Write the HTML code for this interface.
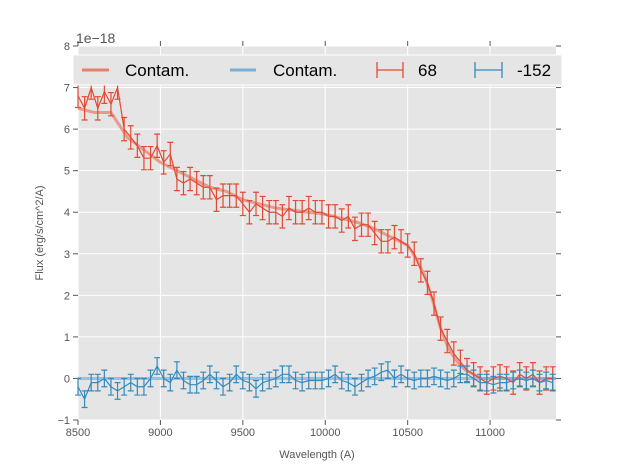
<!DOCTYPE html>
<html><head><meta charset="utf-8"><style>
body{margin:0;background:#fff;font-family:"Liberation Sans",sans-serif}
svg text{font-family:"Liberation Sans",sans-serif}
</style></head><body>
<svg id="chart" width="617" height="467" xmlns="http://www.w3.org/2000/svg">
<rect x="78" y="46" width="478" height="374" fill="#e5e5e5"/>
<g id="grid"></g><g id="ticks"></g><g id="series"></g>
<text x="76" y="43" font-size="14" fill="#555">1e−18</text>
<text x="317" y="458" font-size="11" fill="#555" text-anchor="middle">Wavelength (A)</text>
<text transform="translate(43,233) rotate(-90)" font-size="11" fill="#555" text-anchor="middle">Flux (erg/s/cm^2/A)</text>
<g>
<rect x="73" y="55" width="489" height="30" fill="#e5e5e5" stroke="#fff" stroke-width="1"/>
<line x1="82" y1="70" x2="109" y2="70" stroke="#e8806f" stroke-width="3"/>
<text x="125" y="76" font-size="17" fill="#000">Contam.</text>
<line x1="230" y1="70" x2="256" y2="70" stroke="#7bafd4" stroke-width="3"/>
<text x="273" y="76" font-size="17" fill="#000">Contam.</text>
<g stroke="#e24a33" stroke-width="1.3"><line x1="377" y1="70" x2="403" y2="70"/><line x1="377" y1="62" x2="377" y2="78"/><line x1="403" y1="62" x2="403" y2="78"/></g>
<text x="418" y="76" font-size="17" fill="#000">68</text>
<g stroke="#348abd" stroke-width="1.3"><line x1="475" y1="70" x2="502" y2="70"/><line x1="475" y1="62" x2="475" y2="78"/><line x1="502" y1="62" x2="502" y2="78"/></g>
<text x="517" y="76" font-size="17" fill="#000">-152</text>
</g>
</svg>
<script>
const xTicks=[8500,9000,9500,10000,10500,11000];
const yTicks=[-1,0,1,2,3,4,5,6,7,8];
const wl0=8500, wlStep=40;
const red68=[6.8,6.5,7.0,6.5,6.9,6.6,7.0,6.0,5.8,5.6,5.3,5.3,5.6,5.2,5.4,4.8,4.7,4.8,4.7,4.6,4.6,4.3,4.4,4.4,4.4,4.2,4.0,4.2,4.1,4.0,4.0,3.9,4.1,4.0,4.0,4.1,4.0,4.0,3.9,3.9,3.8,3.9,3.6,3.7,3.7,3.5,3.3,3.3,3.4,3.3,3.2,3.0,2.6,2.3,1.8,1.2,0.9,0.6,0.4,0.2,0.1,0.0,-0.1,0.0,0.05,0.0,-0.1,0.1,0.0,0.1,-0.1,0.0,0.0];
const blue152=[-0.2,-0.5,-0.1,-0.1,0.0,-0.2,-0.3,-0.2,-0.1,-0.2,-0.2,0.0,0.3,0.0,-0.1,0.2,-0.05,-0.15,-0.15,-0.05,0.1,-0.05,-0.2,-0.1,0.1,-0.05,-0.1,-0.25,-0.1,-0.05,0.0,0.1,0.1,-0.05,-0.1,-0.05,-0.05,-0.05,0.0,0.1,-0.05,-0.1,-0.2,-0.1,0.0,0.05,0.15,0.2,0.0,0.1,0.0,-0.05,0.0,0.0,0.05,0.0,-0.05,0.0,0.1,0.1,0.0,-0.1,-0.1,-0.15,-0.1,-0.1,-0.05,0.0,-0.05,0.0,-0.1,-0.05,-0.1];
const redErr=0.28, blueErr=0.2;
const modelWl=[8500,8600,8700,8750,8800,8900,9000,9100,9200,9300,9400,9500,9600,9700,9800,9900,10000,10100,10200,10300,10400,10500,10550,10600,10650,10700,10750,10800,10850,10900,10950,11400];
const modelRed=[6.5,6.4,6.4,6.1,5.8,5.5,5.2,5.0,4.8,4.6,4.5,4.3,4.2,4.1,4.05,4.0,3.95,3.85,3.75,3.6,3.4,3.2,2.9,2.5,1.9,1.2,0.7,0.4,0.2,0.1,0.0,0.0];
const modelBlue=[0,0,0,0,0,0,0,0,0,0,0,0,0,0,0,0,0,0,0,0,0,0,0,0,0,0,0,0,0,0,0,0];
const X0=78,X1=556,Y0=46,Y1=420;
const sx=v=>X0+(v-8500)/(11400-8500)*(X1-X0);
const sy=v=>Y1-(v+1)/9*(Y1-Y0);
const NS="http://www.w3.org/2000/svg";
function mk(tag,attrs,parent){const e=document.createElementNS(NS,tag);for(const k in attrs)e.setAttribute(k,attrs[k]);parent.appendChild(e);return e;}
const grid=document.getElementById('grid'),ticks=document.getElementById('ticks'),ser=document.getElementById('series');
xTicks.forEach(t=>{const x=sx(t);
 const g=mk('line',{x1:x,x2:x,y1:Y0,y2:Y1,stroke:'#fff','stroke-width':1},grid);
 
 
 mk('line',{x1:x,x2:x,y1:Y1,y2:Y1+5,stroke:'#555'},ticks);
 mk('line',{x1:x,x2:x,y1:Y0,y2:Y0-5,stroke:'#555'},ticks);
 const l=mk('text',{x:x,y:Y1+16,'font-size':11,fill:'#555','text-anchor':'middle'},ticks);l.textContent=t;
 
 });
yTicks.forEach(t=>{const y=sy(t);
 const g=mk('line',{x1:X0,x2:X1,y1:y,y2:y,stroke:'#fff','stroke-width':1},grid);
 
 
 mk('line',{x1:X0-5,x2:X0,y1:y,y2:y,stroke:'#555'},ticks);
 mk('line',{x1:X1,x2:X1+5,y1:y,y2:y,stroke:'#555'},ticks);
 const l=mk('text',{x:X0-8,y:y+4,'font-size':11,fill:'#555','text-anchor':'end'},ticks);l.textContent=t<0?'−'+(-t):t;
 
 });
function model(vals,color,name){const p=mk('polyline',{points:modelWl.map((w,i)=>sx(w)+','+sy(vals[i])).join(' '),fill:'none',stroke:color,'stroke-width':3,'stroke-opacity':0.75},ser);
 
 }
function data(vals,err,color,name){const g=mk('g',{stroke:color,'stroke-width':1.2,fill:'none'},ser);
 
 
 mk('polyline',{points:vals.map((v,i)=>sx(wl0+i*wlStep)+','+sy(v)).join(' ')},g);
 vals.forEach((v,i)=>{const x=sx(wl0+i*wlStep),a=sy(v+err),b=sy(v-err);
  const e=mk('path',{d:`M${x},${a}V${b}M${x-3},${a}H${x+3}M${x-3},${b}H${x+3}`},g);
  
  });}
model(modelRed,'#e8806f','model-68-line');
model(modelBlue,'#7bafd4','model-152-line');
data(red68,redErr,'#e24a33','data-68-series');
data(blue152,blueErr,'#348abd','data-152-series');
</script>
</body></html>
